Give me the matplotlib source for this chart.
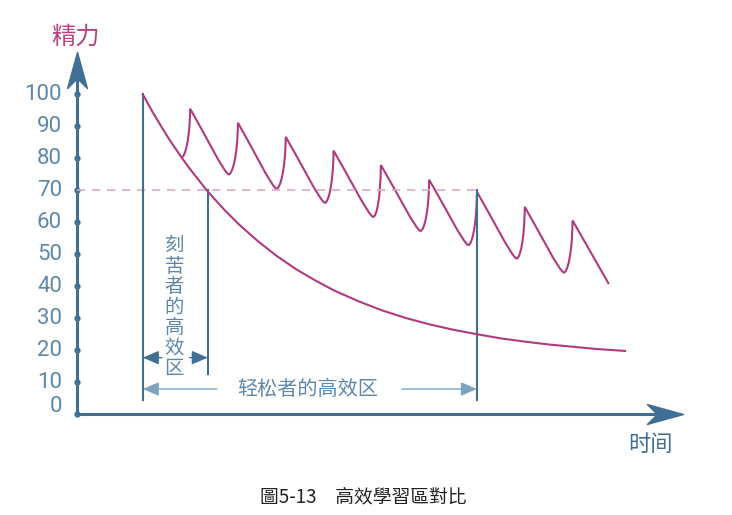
import matplotlib
matplotlib.use("Agg")
import matplotlib.pyplot as plt
from matplotlib.path import Path
from matplotlib.patches import PathPatch

plt.rcParams["font.family"] = ["Noto Sans CJK SC", "DejaVu Sans"]

# ---- 数据 ----
y_ticks = [0, 10, 20, 30, 40, 50, 60, 70, 80, 90, 100]

# 锯齿曲线（劳逸结合）: 峰值 / 谷值
peak_t = [1.00, 1.99, 2.99, 3.99, 4.99, 5.98, 6.99, 7.99, 8.99, 9.99]
peak_v = [100, 95.5, 91.1, 86.7, 82.4, 77.9, 73.3, 69.5, 64.8, 60.6]
trough_t = [1.81, 2.80, 3.80, 4.81, 5.82, 6.81, 7.81, 8.82, 9.81]
trough_v = [80.3, 75.0, 70.5, 66.1, 61.7, 57.3, 52.9, 48.7, 44.3]
end_t, end_v = 10.75, 40.7

# 持续下降曲线（刻苦者）
low_t = [1.00, 1.10, 1.20, 1.30, 1.40, 1.55, 1.70, 1.80, 2.00, 2.36, 2.70, 3.00,
         3.40, 3.80, 4.20, 4.60, 5.00, 5.50, 6.00, 6.50, 7.00, 7.50, 8.00,
         8.50, 9.00, 9.50, 10.00, 10.50, 11.09]
low_v = [100, 97.3, 94.6, 92.1, 89.6, 86.0, 82.7, 80.5, 76.4, 69.6, 64.0, 59.5,
         54.2, 49.5, 45.4, 41.9, 38.7, 35.4, 32.5, 30.1, 28.1, 26.4, 25.0,
         23.7, 22.7, 21.8, 21.1, 20.4, 19.8]

line70 = 70
hard_zone = (1.00, 2.36)
easy_zone = (1.00, 7.99)

axis_c = "#3f6f95"
label_c = "#5d88ab"
curve_c = "#b03a7e"

fig = plt.figure(figsize=(7.32, 5.15), dpi=100)
ax = fig.add_axes([0, 0, 1, 1])
ax.set_xlim(-1.987, 13.326)
ax.set_ylim(-31.47, 129.47)
ax.axis("off")

x0 = -0.377   # 纵轴位置
# 坐标轴
ax.plot([x0, 12.0], [0, 0], color=axis_c, lw=2.2, solid_capstyle="butt")
ax.plot([x0, x0], [0, 108], color=axis_c, lw=2.2, solid_capstyle="butt")
head = Path([(0, 1), (-0.55, -1), (0, -0.45), (0.55, -1), (0, 1)],
            [Path.MOVETO, Path.LINETO, Path.LINETO, Path.LINETO, Path.CLOSEPOLY])
ax.plot(x0, 107.6, marker=head, markersize=26, color=axis_c, mec=axis_c)
head_r = Path([(1, 0), (-1, 0.55), (-0.45, 0), (-1, -0.55), (1, 0)],
              [Path.MOVETO, Path.LINETO, Path.LINETO, Path.LINETO, Path.CLOSEPOLY])
ax.plot(11.93, 0, marker=head_r, markersize=26, color=axis_c, mec=axis_c)

# 刻度点与刻度标签
ax.plot([x0] * len(y_ticks), y_ticks, "o", color=axis_c, markersize=3.5)
for v in y_ticks:
    ax.text(-0.69, v if v else 2.3, str(v), ha="right", va="center",
            fontsize=16, color=label_c, family=["Roboto"])

ax.text(-0.40, 118.0, "精力", ha="center", va="center", fontsize=17.5, color="#b3457f")
ax.text(11.61, -9.5, "时间", ha="center", va="center", fontsize=16, color=axis_c)

# 70 虚线
ax.plot([x0, easy_zone[1]], [line70, line70], color="#dcaacb", lw=1.2, dashes=(5, 4))

# 竖线
ax.plot([hard_zone[0]] * 2, [4.5, peak_v[0]], color=axis_c, lw=1.5)
ax.plot([hard_zone[1]] * 2, [12.6, line70], color=axis_c, lw=1.5)
ax.plot([easy_zone[1]] * 2, [4.5, line70], color=axis_c, lw=1.5)

# 下降曲线
ax.plot(low_t, low_v, color=curve_c, lw=1.5, solid_joinstyle="round")

# 锯齿曲线
verts = [(trough_t[0], trough_v[0])]
codes = [Path.MOVETO]
for i in range(len(trough_t)):
    tt, vt = trough_t[i], trough_v[i]
    tn, vn = peak_t[i + 1], peak_v[i + 1]
    verts += [(tt + 0.07, vt), (tn - 0.005, vt + 0.35 * (vn - vt)), (tn, vn)]
    codes += [Path.CURVE4] * 3
    if i + 1 < len(trough_t):
        t2, v2 = trough_t[i + 1], trough_v[i + 1]
        verts += [(tn + 0.3 * (t2 - tn), vn + 0.3 * (v2 - vn)), (t2 - 0.09, v2), (t2, v2)]
        codes += [Path.CURVE4] * 3
    else:
        verts.append((end_t, end_v))
        codes.append(Path.LINETO)
ax.add_patch(PathPatch(Path(verts, codes), facecolor="none", edgecolor=curve_c, lw=1.5))

# 区间箭头
arr = dict(arrowstyle="-|>,head_length=0.7,head_width=0.3", color=axis_c, lw=1.0,
           shrinkA=0, shrinkB=0, mutation_scale=14)
ax.annotate("", xy=(hard_zone[0], 17.7), xytext=(1.40, 17.7), arrowprops=arr)
ax.annotate("", xy=(hard_zone[1], 17.7), xytext=(1.98, 17.7), arrowprops=arr)
ax.annotate("", xy=(easy_zone[0], 7.9), xytext=(2.55, 7.9),
            arrowprops=dict(arr, color="#7ea3c0"))
ax.annotate("", xy=(easy_zone[1], 7.9), xytext=(6.42, 7.9),
            arrowprops=dict(arr, color="#7ea3c0"))

ax.text(1.66, 33.5, "\n".join("刻苦者的高效区"), ha="center", va="center",
        fontsize=14, color=label_c, linespacing=0.97)
ax.text(4.45, 7.9, "轻松者的高效区", ha="center", va="center", fontsize=14.5, color=label_c)

fig.text(363 / 732, 1 - 497 / 515, "圖5-13\u3000高效學習區對比", ha="center", va="center",
         fontsize=13.5, color="#222222", family=["Noto Sans CJK TC"])

fig.savefig("out.png", dpi=100)
